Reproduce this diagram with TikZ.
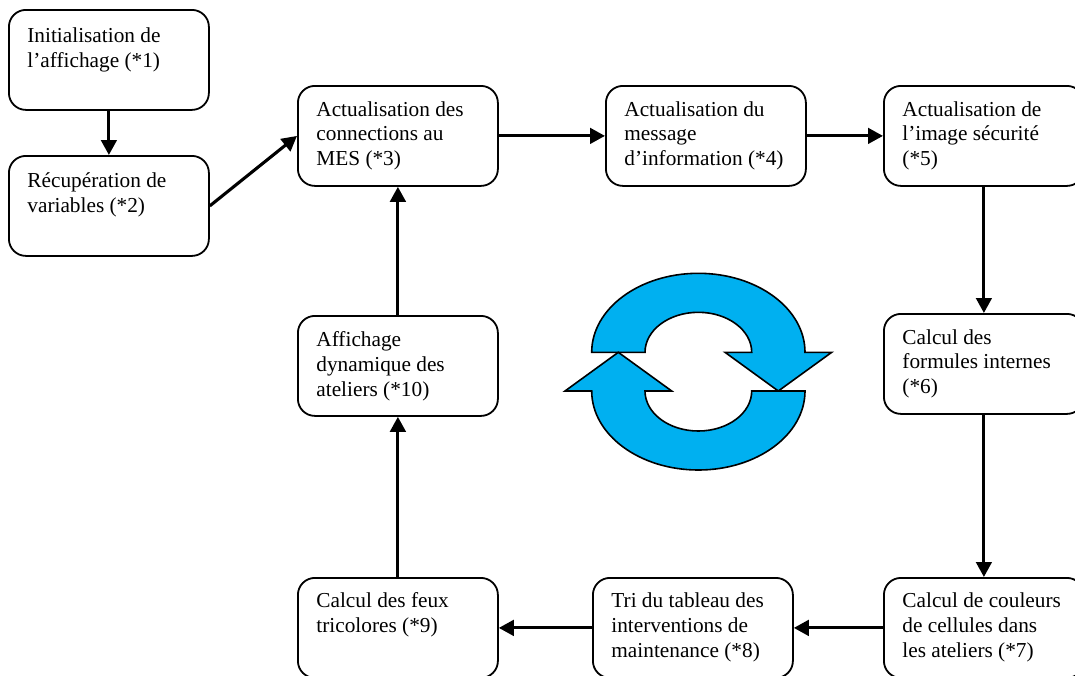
\documentclass[tikz,border=0pt]{standalone}
\usepackage{fontspec}
\setmainfont{Liberation Serif}
\usetikzlibrary{arrows.meta}
\tikzset{
  stepbox/.style={draw=black,line width=1.8pt,rounded corners=17pt,inner sep=0pt,anchor=north west,align=left,font=\fontsize{21.3}{24.8}\selectfont},
  link/.style={line width=3.1pt,-{Triangle[length=15pt,width=15.5pt]}},
  cyclearrow/.style={draw=black,line width=1.6pt,fill=cyanfill,line join=miter}
}
\definecolor{cyanfill}{HTML}{00B0F0}
\newcommand{\boxtext}[2][15.5pt]{\parbox[t][100pt][t]{200pt}{\vspace{#1}\hspace*{18.5pt}\parbox[t]{178pt}{\raggedright #2}}}
\begin{document}
\begin{tikzpicture}[x=1pt,y=-1pt]
\useasboundingbox (0,0) rectangle (1075,675);
\clip (0,0) rectangle (1075,675);
\node[stepbox] (b1) at (8,9) {\boxtext[18pt]{Initialisation de\\l’affichage (*1)}};
\node[stepbox] (b2) at (8,155) {\boxtext[17pt]{Récupération de\\variables (*2)}};
\node[stepbox] (b3) at (297,85) {\boxtext{Actualisation des\\connections au\\MES (*3)}};
\node[stepbox] (b4) at (605,85) {\boxtext{Actualisation du\\message\\d’information (*4)}};
\node[stepbox] (b5) at (883,85) {\boxtext{Actualisation de\\l’image sécurité\\(*5)}};
\node[stepbox] (b6) at (883,313) {\boxtext{Calcul des\\formules internes\\(*6)}};
\node[stepbox] (b7) at (883,577) {\boxtext[15pt]{Calcul de couleurs\\de cellules dans\\les ateliers (*7)}};
\node[stepbox] (b8) at (592,577) {\boxtext[15pt]{Tri du tableau des\\interventions de\\maintenance (*8)}};
\node[stepbox] (b9) at (297,577) {\boxtext[15pt]{Calcul des feux\\tricolores (*9)}};
\node[stepbox] (b10) at (297,315) {\boxtext{Affichage\\dynamique des\\ateliers (*10)}};
\draw[link] (b1.south) -- (b2.north);
\draw[link] (b2.east) -- (b3.west);
\draw[link] (b3.east) -- (b4.west);
\draw[link] (b4.east) -- (b5.west);
\draw[link] (b5.south) -- (b6.north);
\draw[link] (b6.south) -- (b7.north);
\draw[link] (b7.west) -- (b8.east);
\draw[link] (b8.west) -- (b9.east);
\draw[link] (b9.north) -- (b10.south);
\draw[link] (b10.north) -- (b3.south);
\draw[cyclearrow] (591.7,352.3) arc[start angle=180,end angle=0,x radius=106.65,y radius=-79]
  -- (831.7,352.3) -- (778.3,391) -- (725,352.3) -- (751.7,352.3)
  arc[start angle=0,end angle=180,x radius=53.35,y radius=-40] -- cycle;
\draw[cyclearrow] (805,391) arc[start angle=0,end angle=-180,x radius=106.65,y radius=-79]
  -- (565,391) -- (618.3,352.3) -- (671.7,391) -- (645,391)
  arc[start angle=180,end angle=360,x radius=53.35,y radius=-40] -- cycle;
\end{tikzpicture}
\end{document}
